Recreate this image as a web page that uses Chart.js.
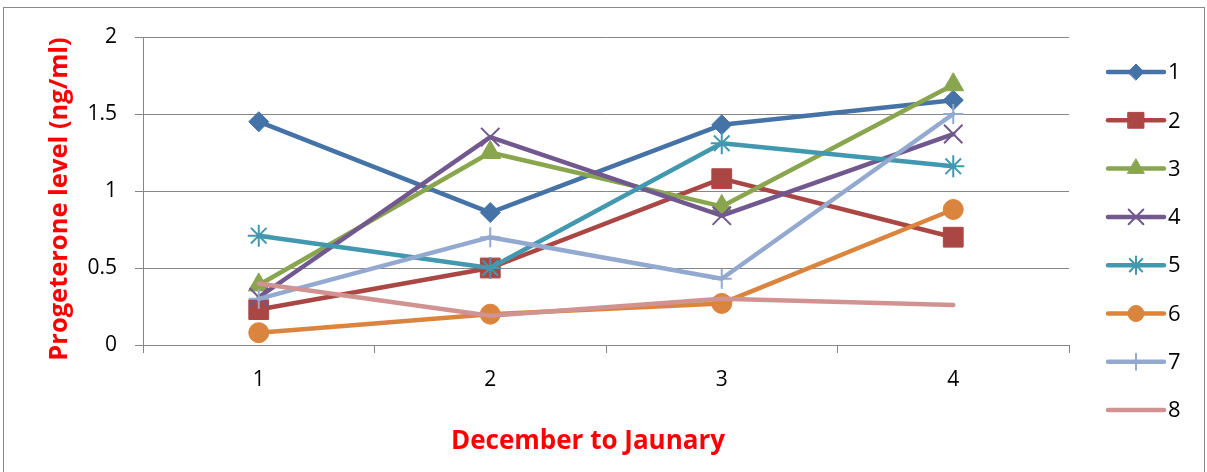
<!DOCTYPE html>
<html>
<head>
<meta charset="utf-8">
<script src="https://cdn.jsdelivr.net/npm/chart.js"></script>
<style>
  body { margin: 0; background: #fff; }
  #wrap { width: 1207px; height: 472px; position: relative; }
</style>
</head>
<body>
<div id="wrap"><canvas id="chart"></canvas></div>
<script>
// x categories (months December to January, sample 1..4)
const categories = ['1', '2', '3', '4'];
const seriesNames = ['1', '2', '3', '4', '5', '6', '7', '8'];

// progesterone level (ng/ml) per animal
const s1 = [1.45, 0.86, 1.43, 1.59];
const s2 = [0.23, 0.50, 1.08, 0.70];
const s3 = [0.39, 1.25, 0.90, 1.69];
const s4 = [0.31, 1.35, 0.84, 1.37];
const s5 = [0.71, 0.50, 1.31, 1.16];
const s6 = [0.08, 0.20, 0.27, 0.88];
const s7 = [0.30, 0.70, 0.43, 1.50];
const s8 = [0.40, 0.19, 0.30, 0.26];

const yTicks = [0, 0.5, 1, 1.5, 2];

const colors = ['#4572A7', '#AA4643', '#89A54E', '#71588F', '#4198AF', '#DB843D', '#93A9CF', '#D19392'];
const markers = ['rectRot', 'rect', 'triangle', 'crossRot', 'star', 'circle', 'cross', false];
const markerSize = [10, 14, 12, 13, 11, 10, 10, 0];
const markerBorder = [1, 1, 1, 2, 2, 1, 2, 0];

const allSeries = [s1, s2, s3, s4, s5, s6, s7, s8];

const datasets = allSeries.map((vals, i) => ({
  label: seriesNames[i],
  data: vals,
  borderColor: colors[i],
  backgroundColor: colors[i],
  borderWidth: 4.5,
  borderJoinStyle: 'round',
  borderCapStyle: 'round',
  tension: 0,
  pointStyle: markers[i] || 'circle',
  pointRadius: markerSize[i],
  pointBorderWidth: markerBorder[i],
  pointBackgroundColor: colors[i],
  pointBorderColor: colors[i],
  order: allSeries.length - 1 - i
}));

const FONT = "'Open Sans', 'DejaVu Sans', sans-serif";

// white page + grey frame round the whole chart
const framePlugin = {
  id: 'frame',
  beforeDraw(chart) {
    const ctx = chart.ctx;
    ctx.save();
    ctx.fillStyle = '#fff';
    ctx.fillRect(0, 0, chart.width, chart.height);
    ctx.strokeStyle = '#8a8a8a';
    ctx.lineWidth = 1;
    ctx.strokeRect(3.5, 7.5, chart.width - 6, chart.height + 20);
    ctx.restore();
  }
};

// axis titles
const titlesPlugin = {
  id: 'titles',
  afterDraw(chart) {
    const ctx = chart.ctx;
    ctx.save();
    ctx.fillStyle = '#FF0000';
    ctx.textAlign = 'center';
    ctx.textBaseline = 'middle';
    ctx.font = 'bold 26px ' + FONT;
    ctx.fillText('December to Jaunary', 588, 442);
    ctx.font = 'bold 25.5px ' + FONT;
    ctx.translate(60, 199);
    ctx.rotate(-Math.PI / 2);
    ctx.fillText('Progeterone level (ng/ml)', 0, 0);
    ctx.restore();
  }
};

// Excel-style legend: line sample with marker, label on the right
const legendPlugin = {
  id: 'xlLegend',
  afterDraw(chart) {
    const ctx = chart.ctx;
    const x0 = 1108, x1 = 1164, top = 72, gap = 48.3;
    ctx.save();
    chart.data.datasets.forEach((ds, i) => {
      const y = top + i * gap;
      ctx.strokeStyle = ds.borderColor;
      ctx.lineWidth = 4.5;
      ctx.lineCap = 'round';
      ctx.beginPath();
      ctx.moveTo(x0, y);
      ctx.lineTo(x1, y);
      ctx.stroke();
      if (markers[i]) {
        ctx.fillStyle = ds.borderColor;
        ctx.strokeStyle = ds.borderColor;
        ctx.lineWidth = markerBorder[i];
        Chart.helpers.drawPoint(ctx, {
          pointStyle: markers[i],
          radius: markerSize[i] * 0.8,
          rotation: 0,
          borderWidth: markerBorder[i]
        }, (x0 + x1) / 2, y);
      }
      ctx.fillStyle = '#000';
      ctx.font = '22px ' + FONT;
      ctx.textAlign = 'left';
      ctx.textBaseline = 'middle';
      ctx.fillText(ds.label, 1168, y + 1);
    });
    ctx.restore();
  }
};

new Chart(document.getElementById('chart'), {
  type: 'line',
  data: { labels: categories, datasets: datasets },
  plugins: [framePlugin, titlesPlugin, legendPlugin],
  options: {
    responsive: true,
    maintainAspectRatio: false,
    animation: false,
    events: [],
    layout: { padding: { top: 37, right: 138, left: 0, bottom: 0 } },
    plugins: {
      legend: { display: false },
      tooltip: { enabled: false }
    },
    scales: {
      x: {
        type: 'category',
        offset: true,
        grid: {
          offset: true,
          drawOnChartArea: false,
          tickLength: 8,
          color: '#868686',
          lineWidth: 1
        },
        border: { display: true, color: '#868686', width: 1 },
        ticks: {
          color: '#000',
          font: { family: FONT, size: 21 },
          padding: 14,
          maxRotation: 0
        },
        afterFit(scale) { scale.height = 127; }
      },
      y: {
        min: 0,
        max: 2,
        afterBuildTicks(scale) { scale.ticks = yTicks.map(v => ({ value: v })); },
        grid: {
          color: '#868686',
          lineWidth: 1,
          tickLength: 8
        },
        border: { display: true, color: '#868686', width: 1 },
        ticks: {
          color: '#000',
          font: { family: FONT, size: 21 },
          padding: 18,
          callback: v => String(v)
        },
        afterFit(scale) { scale.width = 143; }
      }
    }
  }
});
</script>
</body>
</html>
